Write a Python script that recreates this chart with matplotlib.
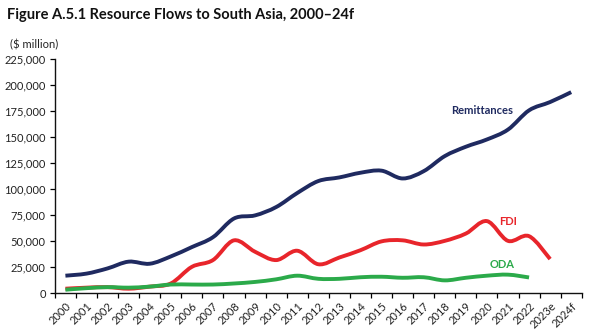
import numpy as np
import matplotlib.pyplot as plt
from matplotlib.path import Path
from matplotlib.patches import PathPatch
from matplotlib.ticker import FuncFormatter

plt.rcParams['font.family'] = ['Lato', 'DejaVu Sans']

years = ['2000', '2001', '2002', '2003', '2004', '2005', '2006', '2007', '2008',
         '2009', '2010', '2011', '2012', '2013', '2014', '2015', '2016', '2017',
         '2018', '2019', '2020', '2021', '2022', '2023e', '2024f']

remittances = [17000, 19000, 24000, 30500, 28500, 35500, 44500, 54000, 72000,
               75000, 83000, 96500, 108000, 111500, 116000, 118000, 110500,
               117500, 132000, 141000, 148000, 157500, 176000, 184000, 193500]
fdi = [4500, 5500, 6000, 4500, 6500, 9500, 25500, 32000, 51000, 40000, 32000,
       41000, 28000, 34500, 41500, 50000, 51000, 47000, 50500, 57500, 69500,
       50500, 55000, 33000]
oda = [3500, 5000, 6000, 5500, 6500, 8500, 8500, 8500, 9500, 11000, 13500,
       17000, 14000, 14000, 15500, 16000, 15000, 15500, 12500, 15000, 17000,
       18000, 15300]

navy = '#1F2A60'
red = '#E8252B'
green = '#2BAA4A'


def smooth_path(y):
    # Excel-style smoothed line: Catmull-Rom segments as cubic Bezier curves
    x = np.arange(len(y), dtype=float)
    y = np.asarray(y, dtype=float)
    pts = np.column_stack([x, y])
    verts = [pts[0]]
    codes = [Path.MOVETO]
    n = len(pts)
    for i in range(n - 1):
        p0 = pts[max(i - 1, 0)]
        p1 = pts[i]
        p2 = pts[i + 1]
        p3 = pts[min(i + 2, n - 1)]
        c1 = p1 + (p2 - p0) / 6
        c2 = p2 - (p3 - p1) / 6
        verts += [c1, c2, p2]
        codes += [Path.CURVE4] * 3
    return Path(verts, codes)


fig = plt.figure(figsize=(5.9, 3.3), dpi=100)
ax = fig.add_axes([0.093, 0.111, 0.893, 0.709])

for series, color in [(remittances, navy), (fdi, red), (oda, green)]:
    patch = PathPatch(smooth_path(series), facecolor='none', edgecolor=color,
                      lw=2.8, capstyle='butt', joinstyle='round')
    ax.add_patch(patch)

ax.set_xlim(-0.5, len(years) - 0.5)
ax.set_ylim(0, 225000)
ax.set_yticks(np.arange(0, 225001, 25000))
ax.yaxis.set_major_formatter(FuncFormatter(lambda v, p: f'{int(v):,}'))

ax.set_xticks(np.arange(len(years)))
ax.set_xticklabels(years, rotation=45, ha='right', rotation_mode='anchor',
                   fontsize=8, color='#222222')
ax.set_xticks(np.arange(-0.5, len(years)), minor=True)
ax.tick_params(axis='x', which='major', length=0, pad=5)
ax.tick_params(axis='x', which='minor', length=3.5, width=0.9, direction='out')
ax.tick_params(axis='y', length=3.5, width=0.9, labelsize=8, labelcolor='#222222', pad=3)

for side in ['top', 'right']:
    ax.spines[side].set_visible(False)
for side in ['left', 'bottom']:
    ax.spines[side].set_linewidth(1.0)
    ax.spines[side].set_color('#111111')

ax.text(19.76, 176000, 'Remittances', color=navy, fontsize=8, fontweight='bold',
        ha='center', va='center')
ax.text(21.0, 69500, 'FDI', color=red, fontsize=8, fontweight='bold',
        ha='center', va='center')
ax.text(20.7, 27900, 'ODA', color=green, fontsize=8, fontweight='bold',
        ha='center', va='center')

fig.text(0.012, 0.955, 'Figure A.5.1 Resource Flows to South Asia, 2000\u201324f',
         fontsize=10.5, fontweight='bold', ha='left', va='center', color='#111111')
fig.text(0.017, 0.866, '($ million)', fontsize=8, ha='left', va='center',
         color='#222222')

fig.savefig('out.png', dpi=100)
